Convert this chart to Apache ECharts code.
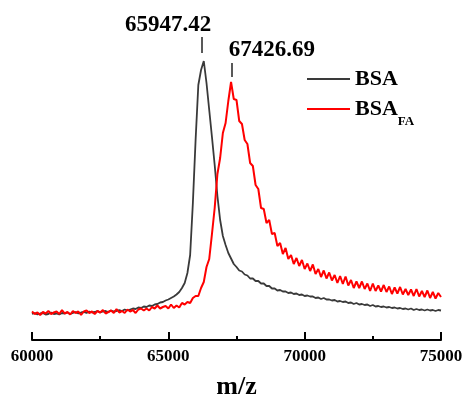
<!DOCTYPE html>
<html>
<head>
<meta charset="utf-8">
<script src="https://cdn.jsdelivr.net/npm/echarts@6/dist/echarts.min.js"></script>
<style>
  html, body { margin: 0; padding: 0; background: #fff; }
  #chart { width: 464px; height: 398px; }
</style>
</head>
<body>
<div id="chart"></div>
<script>
// m/z sampling grid (Da)
const mz = [
  60000, 60100, 60200, 60300, 60400, 60500, 60600, 60700, 60800, 60900,
  61000, 61100, 61200, 61300, 61400, 61500, 61600, 61700, 61800, 61900,
  62000, 62100, 62200, 62300, 62400, 62500, 62600, 62700, 62800, 62900,
  63000, 63100, 63200, 63300, 63400, 63500, 63600, 63700, 63800, 63900,
  64000, 64100, 64200, 64300, 64400, 64500, 64600, 64700, 64800, 64900,
  65000, 65100, 65200, 65300, 65400, 65500, 65600, 65700, 65800, 65900,
  66000, 66100, 66200, 66300, 66400, 66500, 66600, 66700, 66800, 66900,
  67000, 67100, 67200, 67300, 67400, 67500, 67600, 67700, 67800, 67900,
  68000, 68100, 68200, 68300, 68400, 68500, 68600, 68700, 68800, 68900,
  69000, 69100, 69200, 69300, 69400, 69500, 69600, 69700, 69800, 69900,
  70000, 70100, 70200, 70300, 70400, 70500, 70600, 70700, 70800, 70900,
  71000, 71100, 71200, 71300, 71400, 71500, 71600, 71700, 71800, 71900,
  72000, 72100, 72200, 72300, 72400, 72500, 72600, 72700, 72800, 72900,
  73000, 73100, 73200, 73300, 73400, 73500, 73600, 73700, 73800, 73900,
  74000, 74100, 74200, 74300, 74400, 74500, 74600, 74700, 74800, 74900,
  75000
];

// intensity (a.u.)
const bsa = [
  26, 27, 25.5, 26.5, 27, 25.5, 26, 27.5, 26, 26.5,
  25.5, 27, 26.5, 27.5, 26, 27, 28, 26.5, 27.5, 28,
  27, 28.5, 27.5, 28, 29, 27.5, 28.5, 29, 28, 29.5,
  28.5, 29, 30, 29, 30.5, 29.5, 30.5, 31.5, 31, 32.5,
  32, 33.5, 33, 34.5, 34, 35.5, 36, 37.5, 38, 39.5,
  40.5, 42, 43.5, 45.5, 48, 52, 57, 67, 85, 137,
  200, 255, 270, 279, 257, 230, 203, 175, 144, 120,
  104, 95, 87, 81.5, 76, 73, 69.5, 68.5, 65.5, 64.5,
  61.5, 61.5, 59, 59, 56.5, 56.5, 54, 54, 51.5, 51.5,
  49.5, 50, 48.5, 48.5, 47, 47.5, 46, 46.5, 45, 45.5,
  44, 44.5, 43.5, 43.5, 42, 42.5, 41, 42, 40.5, 40.5,
  39.5, 40, 38.5, 39, 38, 38.5, 37, 37.5, 36, 37,
  35.5, 36, 35, 35.5, 34, 35, 33.5, 34, 33, 33.5,
  32.5, 33, 32, 32.5, 31.5, 32, 31, 31.5, 30.5, 31.5,
  30, 31, 30, 30.5, 29.5, 30.5, 29.5, 30, 29, 30,
  29.5
];

const bsaFa = [
  28.5, 26, 27.5, 25, 28, 26.5, 29, 26, 27.5, 28.5,
  26, 30, 26.5, 28, 25.5, 29, 27, 28.5, 25, 28.5,
  29.5, 27, 28.5, 26, 29, 27.5, 30, 26.5, 28, 29.5,
  27, 31, 27.5, 29, 27, 30.5, 28.5, 30, 27, 30.5,
  31.5, 29.5, 31.5, 29.5, 33, 31.5, 34.5, 31.5, 33, 34,
  31.5, 35.5, 32, 34.5, 32.5, 37, 35.5, 38, 37, 42,
  44, 44, 52, 58, 73, 81, 106, 132, 166, 182,
  207, 217, 239, 258, 241, 240, 219, 216, 200, 196,
  177, 174, 155, 151, 132, 131, 117, 120, 106, 107,
  94, 97, 86, 92, 81, 85, 76, 82, 74, 80,
  71, 76.5, 69, 75.5, 66, 71, 63, 69.5, 61.5, 67.5,
  59.5, 65, 57, 64, 56, 63.5, 54.5, 60, 52, 58.5,
  52, 58.5, 51, 56.5, 49, 56.5, 49, 54.5, 48.5, 55,
  48, 53.5, 46, 52.5, 46.5, 53, 45.5, 51, 45, 50.5,
  44, 51, 43.5, 49, 43, 49.5, 42, 48, 41.5, 47,
  43
];

const xTicks = [60000, 65000, 70000, 75000];

// peak annotations: [m/z shown, tick position, tick bottom, tick top]
const bsaPeak = ['65947.42', 66240, 287, 303];
const bsaFaPeak = ['67426.69', 67330, 263, 277];

const serif = '"Liberation Serif", "Times New Roman", serif';

const chart = echarts.init(document.getElementById('chart'));

function pairs(ys) {
  return mz.map((x, i) => [x, ys[i]]);
}

function peakMarks(peak, offset) {
  return {
    markLine: {
      silent: true,
      symbol: 'none',
      label: { show: false },
      lineStyle: { color: '#222', width: 1.5, type: 'solid' },
      data: [[{ coord: [peak[1], peak[2]] }, { coord: [peak[1], peak[3]] }]]
    },
    markPoint: {
      silent: true,
      symbol: 'circle',
      symbolSize: 1,
      itemStyle: { color: 'rgba(0,0,0,0)' },
      label: {
        show: true,
        position: 'inside',
        offset: offset,
        formatter: peak[0],
        color: '#000',
        fontFamily: serif,
        fontWeight: 'bold',
        fontSize: 23
      },
      data: [{ coord: [peak[1], peak[3]] }]
    }
  };
}

chart.setOption({
  animation: false,
  backgroundColor: '#fff',
  grid: { left: 32, right: 23, top: 20, bottom: 58, outerBoundsMode: 'none', containLabel: false },
  legend: {
    orient: 'vertical',
    left: 307,
    top: 68,
    padding: 0,
    itemGap: 8,
    itemWidth: 43,
    itemHeight: 2,
    icon: 'rect',
    textStyle: {
      color: '#000',
      fontFamily: serif,
      fontWeight: 'bold',
      rich: {
        a: { fontSize: 22, lineHeight: 22, verticalAlign: 'top', fontFamily: serif, fontWeight: 'bold', color: '#000' },
        s: { fontSize: 13, lineHeight: 13, padding: [17, 0, 0, 0], verticalAlign: 'top', fontFamily: serif, fontWeight: 'bold', color: '#000' }
      }
    },
    formatter: function (name) {
      return name === 'BSA' ? '{a|BSA}' : '{a|BSA}{s|FA}';
    },
    data: ['BSA', 'BSA_FA']
  },
  xAxis: {
    type: 'value',
    min: 60000,
    max: 75000,
    interval: 5000,
    name: 'm/z',
    nameLocation: 'middle',
    nameGap: 34,
    nameTextStyle: { color: '#000', fontFamily: serif, fontWeight: 'bold', fontSize: 26 },
    axisLine: { show: true, onZero: false, lineStyle: { color: '#000', width: 2 } },
    axisTick: { show: true, inside: true, length: 8, lineStyle: { color: '#000', width: 2 } },
    minorTick: { show: true, splitNumber: 2, length: 4, lineStyle: { color: '#000', width: 2 } },
    splitLine: { show: false },
    axisLabel: {
      color: '#000',
      fontFamily: serif,
      fontWeight: 'bold',
      fontSize: 17,
      margin: 8,
      formatter: (v) => (xTicks.includes(v) ? String(v) : '')
    }
  },
  yAxis: {
    type: 'value',
    min: 0,
    max: 320,
    show: false
  },
  series: [
    Object.assign({
      name: 'BSA',
      type: 'line',
      symbol: 'none',
      z: 2,
      lineStyle: { color: '#3a3a3a', width: 1.8 },
      itemStyle: { color: '#3a3a3a' },
      data: pairs(bsa)
    }, peakMarks(bsaPeak, [-34, -12])),
    Object.assign({
      name: 'BSA_FA',
      type: 'line',
      symbol: 'none',
      z: 3,
      lineStyle: { color: '#ff0000', width: 2 },
      itemStyle: { color: '#ff0000' },
      data: pairs(bsaFa)
    }, peakMarks(bsaFaPeak, [40, -13]))
  ]
});
</script>
</body>
</html>
